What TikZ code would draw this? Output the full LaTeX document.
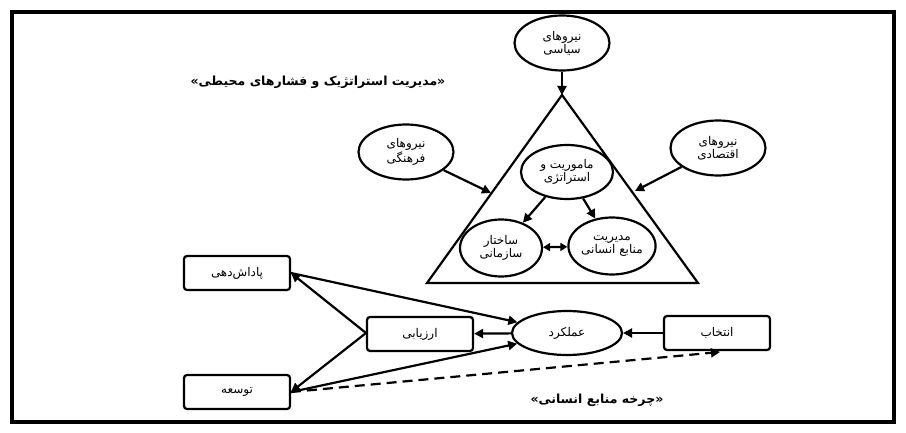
\documentclass[tikz,border=0pt]{standalone}
\usepackage{fontspec}
\newfontfamily\arabicfont[Script=Arabic]{DejaVu Sans}
\TeXXeTstate=1
\usetikzlibrary{shapes.geometric,arrows.meta}
\newcommand{\ar}[1]{\beginR #1\endR}
\begin{document}
\begin{tikzpicture}[x=1pt,y=-1pt,
  every node/.style={font=\arabicfont\fontsize{12}{13}\selectfont, align=center},
  ell/.style={draw, ellipse, line width=2.2pt, inner sep=0pt},
  box/.style={draw, rounded corners=3pt, line width=2.2pt, minimum width=106pt, minimum height=34pt},
  arr/.style={line width=2.2pt, -{Triangle[length=9pt,width=9pt]}},
  darr/.style={line width=2.2pt, {Triangle[length=7pt,width=8pt]}-{Triangle[length=7pt,width=8pt]}}]
\useasboundingbox (0,0) rectangle (906,433);
\draw[line width=3.5pt] (12,12) rectangle (894,422);
% triangle
\draw[line width=2.2pt] (562,95) -- (698,283) -- (427,283) -- cycle;
\coordinate (apex) at (562,95);
\coordinate (lside) at (491,193);
\coordinate (rside) at (635,191);
\node[ell, minimum width=95pt, minimum height=55pt] (pol) at (562,43) {\ar{نیروهای}\\\ar{سیاسی}};
\node[ell, minimum width=95pt, minimum height=55pt] (cul) at (406,152) {\ar{نیروهای}\\\ar{فرهنگی}};
\node[ell, minimum width=95pt, minimum height=55pt] (eco) at (718,148) {\ar{نیروهای}\\\ar{اقتصادی}};
\node[ell, minimum width=92pt, minimum height=54pt] (mis) at (567,172) {\ar{ماموریت و}\\\ar{استراتژی}};
\node[ell, minimum width=82pt, minimum height=57pt] (str) at (501,248) {\ar{ساختار}\\\ar{سازمانی}};
\node[ell, minimum width=86pt, minimum height=57pt] (hrm) at (612,246) {\ar{مدیریت}\\\ar{منابع انسانی}};
\node[font=\arabicfont\bfseries\fontsize{12.5}{13}\selectfont] (t1) at (318,82) {\ar{«مدیریت استراتژیک و فشارهای محیطی»}};
\draw[arr] (pol) -- (apex);
\draw[arr] (cul) -- (lside);
\draw[arr] (eco) -- (rside);
\draw[arr] (mis) -- (str);
\draw[arr] (mis) -- (hrm);
\draw[darr] (str) -- (hrm);
% HR cycle
\node[box] (rew) at (237,273) {\ar{پاداش‌دهی}};
\node[box] (eva) at (420,334) {\ar{ارزیابی}};
\node[ell, minimum width=110pt, minimum height=44pt] (perf) at (567,333) {\ar{عملکرد}};
\node[box] (sel) at (717,333) {\ar{انتخاب}};
\node[box] (dev) at (237,392) {\ar{توسعه}};
\node[font=\arabicfont\bfseries\fontsize{12.5}{13}\selectfont] (t2) at (597,400) {\ar{«چرخه منابع انسانی»}};
\coordinate (evl) at (366,333);
\coordinate (rewr) at (291,273);
\coordinate (devr) at (291,392);
\coordinate (selb) at (720,352);
\draw[arr] (evl) -- (rewr);
\draw[arr] (evl) -- (devr);
\draw[arr] (rewr) -- (perf);
\draw[arr] (devr) -- (perf);
\draw[arr] (perf) -- (eva);
\draw[arr] (sel) -- (perf);
\draw[arr, dashed, dash pattern=on 10pt off 6pt] (devr) -- (selb);
\end{tikzpicture}
\end{document}
